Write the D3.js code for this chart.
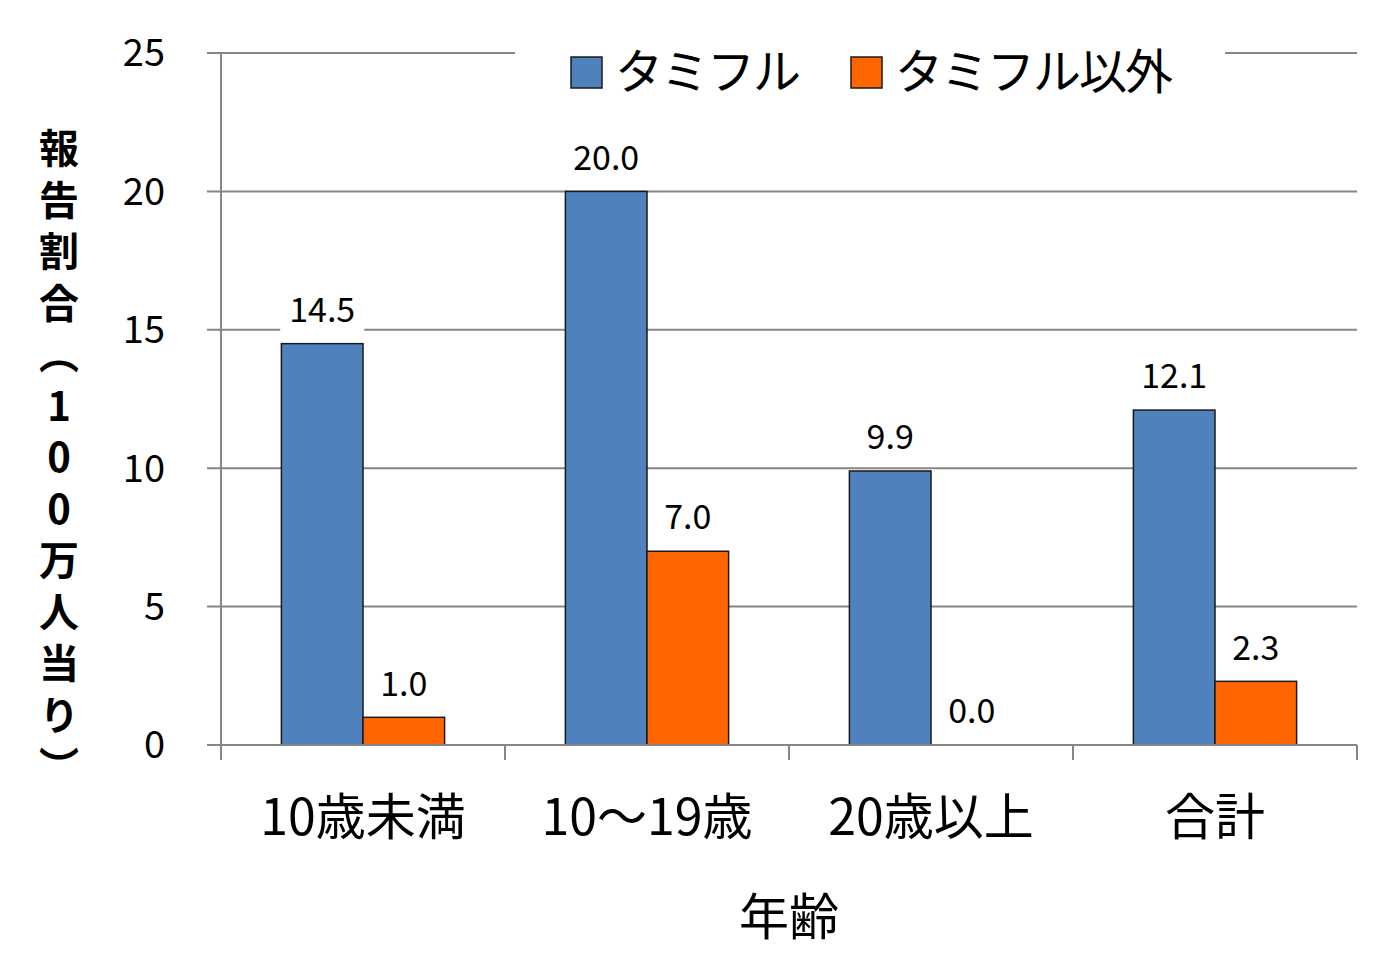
<!DOCTYPE html>
<html>
<head>
<meta charset="utf-8">
<script src="https://cdn.jsdelivr.net/npm/d3@7"></script>
<style>
body{margin:0;background:#fff;}
svg text{font-family:"Noto Sans CJK JP","Noto Sans",sans-serif;fill:#000;}
.ytitle{writing-mode:vertical-rl;text-orientation:upright;}
</style>
</head>
<body>
<div id="chart"></div>
<script>
'use strict';
var categories = ["10歳未満", "10～19歳", "20歳以上", "合計"];
var seriesNames = ["タミフル", "タミフル以外"];
var tamiflu = [14.5, 20.0, 9.9, 12.1];
var other = [1.0, 7.0, 0.0, 2.3];
var yTicks = [0, 5, 10, 15, 20, 25];
var colors = ["#4F81BD", "#FF6600"];
var yTitle = "報告割合（100万人当り）";
var xTitle = "年齢";

var W = 1387, H = 974;
var margin = {top: 53, right: 30, bottom: 229, left: 221};
var width = W - margin.left - margin.right,
    height = H - margin.top - margin.bottom;

var svg = d3.select("#chart").append("svg")
    .attr("width", W).attr("height", H);
var g = svg.append("g")
    .attr("transform", "translate(" + margin.left + "," + margin.top + ")");

var x0 = d3.scaleBand().domain(categories).range([0, width]).padding(0);
var x1 = d3.scaleBand().domain(seriesNames).range([0, x0.bandwidth()])
    .paddingInner(0).paddingOuter(0.74);
var y = d3.scaleLinear().domain([0, 25]).range([height, 0]);

// gridlines + y ticks
g.selectAll(".grid").data(yTicks).enter().append("line")
    .attr("x1", -14).attr("x2", width)
    .attr("y1", function(d){ return y(d); })
    .attr("y2", function(d){ return y(d); })
    .attr("stroke", "#868686").attr("stroke-width", 2);

g.selectAll(".ytick").data(yTicks).enter().append("text")
    .attr("x", -56).attr("y", function(d){ return y(d); })
    .attr("dy", "0.35em").attr("text-anchor", "end")
    .attr("font-size", 38).text(function(d){ return d; });

var rows = categories.map(function(c, i){
    return [{cat: c, s: seriesNames[0], v: tamiflu[i]}, {cat: c, s: seriesNames[1], v: other[i]}];
});
var groups = g.selectAll(".grp").data(rows).enter().append("g")
    .attr("transform", function(d){ return "translate(" + x0(d[0].cat) + ",0)"; });

// value labels with white background (under the bars)
var lbl = groups.selectAll(".lbl").data(function(d){ return d; }).enter().append("g")
    .attr("transform", function(d){
        return "translate(" + (x1(d.s) + x1.bandwidth() / 2) + "," + (y(d.v) - 34) + ")";
    });
lbl.append("rect").attr("x", -42).attr("y", -22).attr("width", 84).attr("height", 44)
    .attr("fill", "#fff");
lbl.append("text").attr("text-anchor", "middle").attr("dy", "0.36em")
    .attr("font-size", 34).text(function(d){ return d.v.toFixed(1); });

// bars
groups.selectAll(".bar").data(function(d){ return d; }).enter().append("rect")
    .attr("x", function(d){ return x1(d.s); })
    .attr("y", function(d){ return y(d.v); })
    .attr("width", x1.bandwidth())
    .attr("height", function(d){ return height - y(d.v); })
    .attr("fill", function(d, i){ return colors[i]; })
    .attr("stroke", function(d){ return d.v > 0 ? "#1a1a1a" : "none"; })
    .attr("stroke-width", 1.5);

// y axis line
g.append("line").attr("x1", 0).attr("x2", 0).attr("y1", 0).attr("y2", height + 15)
    .attr("stroke", "#868686").attr("stroke-width", 2);

// x category ticks
var bounds = categories.map(function(c){ return x0(c); }).concat([width]);
g.selectAll(".xtick").data(bounds).enter().append("line")
    .attr("x1", function(d){ return d; }).attr("x2", function(d){ return d; })
    .attr("y1", height).attr("y2", height + 15)
    .attr("stroke", "#868686").attr("stroke-width", 2);

// x axis line
g.append("line").attr("x1", -14).attr("x2", width).attr("y1", height).attr("y2", height)
    .attr("stroke", "#868686").attr("stroke-width", 2);

// category labels
g.selectAll(".cat").data(categories).enter().append("text")
    .attr("x", function(d){ return x0(d) + x0.bandwidth() / 2; })
    .attr("y", height + 90).attr("text-anchor", "middle")
    .attr("font-size", 50).text(function(d){ return d; });

// x title
g.append("text").attr("x", width / 2).attr("y", height + 190)
    .attr("text-anchor", "middle").attr("font-size", 50).text(xTitle);

// y title, vertical writing
svg.append("text").attr("class", "ytitle")
    .attr("x", 59).attr("y", 128)
    .attr("font-size", 40).attr("font-weight", "bold")
    .attr("letter-spacing", 11.5)
    .text(yTitle);

// legend
var leg = svg.append("g");
leg.append("rect").attr("x", 515).attr("y", 30).attr("width", 710).attr("height", 60).attr("fill", "#fff");
var legX = [571, 851];
seriesNames.forEach(function(s, i){
    leg.append("rect").attr("x", legX[i]).attr("y", 57).attr("width", 31).attr("height", 31)
        .attr("fill", colors[i]).attr("stroke", "#1a1a1a").attr("stroke-width", 1.5);
    leg.append("text").attr("x", legX[i] + 44).attr("y", 72).attr("dy", "0.36em")
        .attr("font-size", 48).attr("letter-spacing", -2).text(s);
});
</script>
</body>
</html>
